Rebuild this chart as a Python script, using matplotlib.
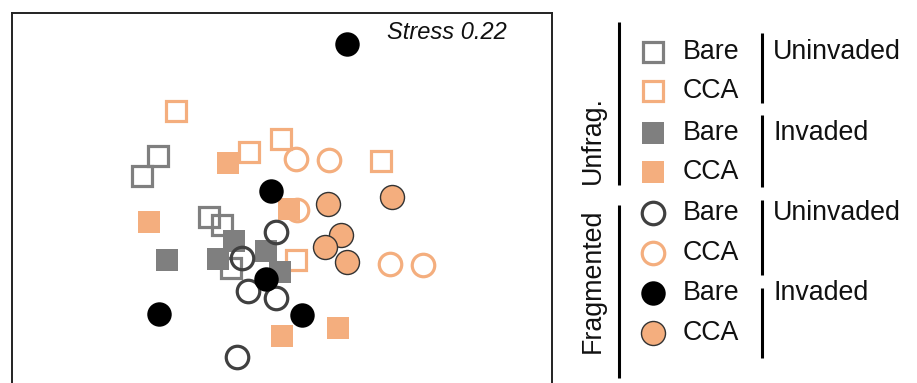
import matplotlib
matplotlib.use("Agg")
import matplotlib.pyplot as plt

plt.rcParams['font.family'] = ['Liberation Sans', 'DejaVu Sans']

# NMDS scores per group (NMDS1, NMDS2)
frag_inv_bare_x = [0.67, -0.09, -0.14, -1.21, 0.22]
frag_inv_bare_y = [1.76, 0.29, -0.59, -0.94, -0.95]

frag_uninv_bare_x = [-0.04, -0.38, -0.32, -0.04, -0.43]
frag_uninv_bare_y = [-0.12, -0.38, -0.71, -0.78, -1.37]

frag_uninv_cca_x = [0.16, 0.49, 0.17, 1.10, 1.43]
frag_uninv_cca_y = [0.61, 0.60, 0.10, -0.44, -0.45]

frag_inv_cca_x = [0.48, 1.12, 0.61, 0.45, 0.67]
frag_inv_cca_y = [0.16, 0.23, -0.15, -0.27, -0.42]

unfrag_uninv_bare_x = [-1.22, -1.38, -0.71, -0.58, -0.49]
unfrag_uninv_bare_y = [0.64, 0.44, 0.03, -0.05, -0.48]

unfrag_uninv_cca_x = [-1.04, -0.31, 0.01, 1.01, 0.16]
unfrag_uninv_cca_y = [1.09, 0.68, 0.81, 0.59, -0.40]

unfrag_inv_bare_x = [-1.13, -0.62, -0.46, -0.14, 0.00]
unfrag_inv_bare_y = [-0.40, -0.39, -0.21, -0.31, -0.52]

unfrag_inv_cca_x = [-0.52, -1.31, 0.09, 0.02, 0.58]
unfrag_inv_cca_y = [0.57, -0.02, 0.11, -1.16, -1.08]

stress = 0.22

GREY = '#7f7f7f'
ORANGE = '#f4ae7e'
DARK = '#404040'

# marker styles per group
STYLES = {
    'unfrag_uninv_bare': dict(marker='s', ms=14.3, mfc='none', mec=GREY, mew=2.3),
    'unfrag_uninv_cca': dict(marker='s', ms=14.3, mfc='none', mec=ORANGE, mew=2.3),
    'unfrag_inv_bare': dict(marker='s', ms=16.3, mfc=GREY, mec='none', mew=0),
    'unfrag_inv_cca': dict(marker='s', ms=16.3, mfc=ORANGE, mec='none', mew=0),
    'frag_uninv_bare': dict(marker='o', ms=16.2, mfc='none', mec=DARK, mew=2.3),
    'frag_uninv_cca': dict(marker='o', ms=16.2, mfc='none', mec=ORANGE, mew=2.3),
    'frag_inv_bare': dict(marker='o', ms=17.6, mfc='black', mec='none', mew=0),
    'frag_inv_cca': dict(marker='o', ms=17.3, mfc=ORANGE, mec='#333333', mew=1.0),
}

# drawing order (later ones on top)
groups = [
    ('frag_uninv_cca', frag_uninv_cca_x, frag_uninv_cca_y),
    ('unfrag_uninv_bare', unfrag_uninv_bare_x, unfrag_uninv_bare_y),
    ('unfrag_uninv_cca', unfrag_uninv_cca_x, unfrag_uninv_cca_y),
    ('unfrag_inv_bare', unfrag_inv_bare_x, unfrag_inv_bare_y),
    ('unfrag_inv_cca', unfrag_inv_cca_x, unfrag_inv_cca_y),
    ('frag_uninv_bare', frag_uninv_bare_x, frag_uninv_bare_y),
    ('frag_inv_cca', frag_inv_cca_x, frag_inv_cca_y),
    ('frag_inv_bare', frag_inv_bare_x, frag_inv_bare_y),
]

W, H = 917, 383
fig = plt.figure(figsize=(W / 100, H / 100), dpi=100)

# ordination panel
ax = fig.add_axes([12 / W, 0, 540 / W, 370 / H])
for key, xs, ys in groups:
    ax.plot(xs, ys, linestyle='none', **STYLES[key])
ax.set_xlim(-2.68, 2.72)
ax.set_ylim(-1.63, 2.07)
ax.set_xticks([])
ax.set_yticks([])
for side in ('left', 'top', 'right'):
    ax.spines[side].set_linewidth(1.4)
    ax.spines[side].set_color('#222222')
ax.spines['bottom'].set_visible(False)
ax.text(0.917, 0.946, f'Stress {stress:.2f}', transform=ax.transAxes,
        ha='right', va='center', style='italic', fontsize=17, color='#111111')

# legend panel in pixel units
lg = fig.add_axes([0, 0, 1, 1])
lg.set_xlim(0, W)
lg.set_ylim(H, 0)
lg.axis('off')
lg.patch.set_visible(False)

rows = [
    ('unfrag_uninv_bare', 'Bare'),
    ('unfrag_uninv_cca', 'CCA'),
    ('unfrag_inv_bare', 'Bare'),
    ('unfrag_inv_cca', 'CCA'),
    ('frag_uninv_bare', 'Bare'),
    ('frag_uninv_cca', 'CCA'),
    ('frag_inv_bare', 'Bare'),
    ('frag_inv_cca', 'CCA'),
]
row_y = [52, 91, 133, 172, 213, 253, 293, 333]
fs = 19.3
for (key, label), y in zip(rows, row_y):
    lg.plot([653], [y], linestyle='none', **STYLES[key])
    lg.text(683, y, label, ha='left', va='center', fontsize=fs, color='#111111')

# fragmentation brackets
lg.plot([619, 619], [22, 185], color='black', lw=2.2, solid_capstyle='butt')
lg.plot([619, 619], [205, 378], color='black', lw=2.2, solid_capstyle='butt')
lg.text(593, 140, 'Unfrag.', rotation=90, ha='center', va='center', fontsize=fs, color='#111111')
lg.text(593, 281, 'Fragmented', rotation=90, ha='center', va='center', fontsize=fs, color='#111111')

# invasion brackets
for y0, y1, label, ty in [(33, 103, 'Uninvaded', 52), (115, 187, 'Invaded', 133),
                          (200, 275, 'Uninvaded', 213), (288, 358, 'Invaded', 293)]:
    lg.plot([762, 762], [y0, y1], color='black', lw=2.2, solid_capstyle='butt')
    lg.text(773, ty, label, ha='left', va='center', fontsize=fs, color='#111111')

fig.savefig('out.png', dpi=100)
